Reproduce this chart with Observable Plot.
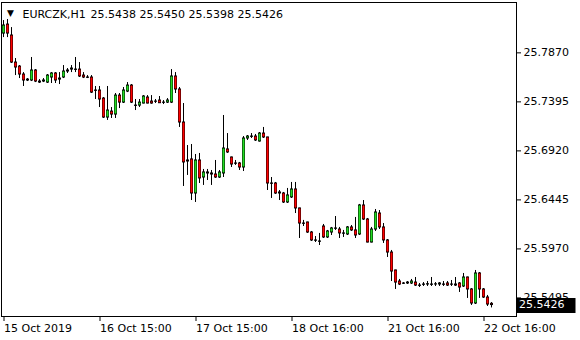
<!DOCTYPE html>
<html><head><meta charset="utf-8">
<script src="https://cdn.jsdelivr.net/npm/d3@7"></script>
<script src="https://cdn.jsdelivr.net/npm/@observablehq/plot@0.6"></script>
<style>html,body{margin:0;padding:0;background:#fff} svg{display:block}</style>
</head><body><div id="chart"></div>
<script>
const symbol = "EURCZK,H1";
const open = [25.8057,25.8144,25.8038,25.7776,25.7737,25.7660,25.7611,25.7602,25.7699,25.7592,25.7592,25.7582,25.7631,25.7670,25.7611,25.7631,25.7699,25.7708,25.7708,25.7708,25.7650,25.7631,25.7631,25.7505,25.7505,25.7427,25.7243,25.7301,25.7272,25.7456,25.7388,25.7495,25.7553,25.7359,25.7359,25.7379,25.7437,25.7398,25.7398,25.7408,25.7388,25.7388,25.7388,25.7641,25.7515,25.7195,25.6827,25.6837,25.6507,25.6827,25.6662,25.6711,25.6701,25.6691,25.6662,25.6701,25.6934,25.6856,25.6798,25.6798,25.6759,25.7040,25.7059,25.7059,25.7011,25.7088,25.7050,25.6604,25.6604,25.6517,25.6507,25.6420,25.6469,25.6546,25.6362,25.6216,25.6226,25.6129,25.6052,25.6042,25.6187,25.6081,25.6129,25.6168,25.6158,25.6120,25.6110,25.6178,25.6149,25.6110,25.6391,25.6255,25.6032,25.6158,25.6313,25.6178,25.6052,25.5935,25.5761,25.5654,25.5635,25.5635,25.5635,25.5644,25.5615,25.5625,25.5625,25.5625,25.5625,25.5625,25.5625,25.5635,25.5625,25.5625,25.5635,25.5606,25.5693,25.5577,25.5441,25.5732,25.5577,25.5499,25.5438];
const high = [25.8183,25.8193,25.8115,25.7815,25.7747,25.7679,25.7621,25.7825,25.7708,25.7611,25.7621,25.7660,25.7679,25.7679,25.7679,25.7747,25.7718,25.7747,25.7825,25.7776,25.7679,25.7650,25.7650,25.7544,25.7544,25.7437,25.7544,25.7340,25.7476,25.7476,25.7534,25.7582,25.7563,25.7418,25.7418,25.7456,25.7456,25.7456,25.7418,25.7447,25.7408,25.7427,25.7708,25.7679,25.7534,25.7379,25.6972,25.6982,25.6885,25.6895,25.6740,25.6740,25.6730,25.6827,25.6730,25.7263,25.7088,25.6860,25.6827,25.6808,25.7059,25.7069,25.7088,25.7079,25.7098,25.7147,25.7052,25.6662,25.6614,25.6536,25.6517,25.6556,25.6614,25.6614,25.6365,25.6246,25.6229,25.6139,25.6090,25.6120,25.6207,25.6149,25.6178,25.6284,25.6178,25.6149,25.6187,25.6197,25.6275,25.6401,25.6439,25.6265,25.6178,25.6352,25.6342,25.6216,25.6061,25.5955,25.5764,25.5674,25.5644,25.5654,25.5674,25.5693,25.5635,25.5644,25.5654,25.5693,25.5644,25.5644,25.5654,25.5654,25.5664,25.5693,25.5644,25.5732,25.5697,25.5586,25.5761,25.5741,25.5586,25.5519,25.5450];
const low = [25.8018,25.8018,25.7767,25.7650,25.7621,25.7544,25.7592,25.7592,25.7582,25.7573,25.7582,25.7573,25.7573,25.7573,25.7563,25.7621,25.7670,25.7679,25.7679,25.7631,25.7621,25.7621,25.7476,25.7418,25.7340,25.7234,25.7215,25.7234,25.7234,25.7330,25.7379,25.7485,25.7379,25.7311,25.7340,25.7375,25.7375,25.7372,25.7379,25.7379,25.7369,25.7379,25.7379,25.7476,25.7147,25.6575,25.6682,25.6439,25.6420,25.6604,25.6585,25.6633,25.6585,25.6653,25.6653,25.6662,25.6895,25.6759,25.6779,25.6730,25.6720,25.7021,25.7040,25.7011,25.7005,25.7040,25.6536,25.6459,25.6498,25.6439,25.6410,25.6410,25.6459,25.6313,25.6071,25.6187,25.6120,25.6042,25.6032,25.6003,25.6071,25.6071,25.6100,25.6149,25.6071,25.6081,25.6100,25.6139,25.6071,25.6100,25.6246,25.6028,25.6028,25.6139,25.6158,25.6023,25.5887,25.5654,25.5577,25.5615,25.5625,25.5625,25.5625,25.5606,25.5596,25.5606,25.5606,25.5606,25.5606,25.5606,25.5606,25.5606,25.5606,25.5606,25.5548,25.5596,25.5490,25.5422,25.5431,25.5490,25.5490,25.5412,25.5398];
const close = [25.8135,25.8057,25.7776,25.7728,25.7660,25.7602,25.7602,25.7699,25.7592,25.7582,25.7602,25.7650,25.7670,25.7602,25.7621,25.7689,25.7689,25.7718,25.7705,25.7641,25.7631,25.7628,25.7485,25.7502,25.7418,25.7243,25.7311,25.7272,25.7456,25.7388,25.7505,25.7553,25.7388,25.7356,25.7388,25.7447,25.7379,25.7379,25.7396,25.7382,25.7386,25.7408,25.7641,25.7515,25.7195,25.6808,25.6817,25.6507,25.6827,25.6653,25.6711,25.6701,25.6691,25.6662,25.6711,25.6943,25.6905,25.6788,25.6795,25.6759,25.7040,25.7059,25.7056,25.7021,25.7088,25.7050,25.6604,25.6601,25.6507,25.6507,25.6420,25.6488,25.6546,25.6362,25.6216,25.6213,25.6129,25.6052,25.6049,25.6039,25.6081,25.6139,25.6168,25.6165,25.6120,25.6117,25.6178,25.6149,25.6100,25.6391,25.6255,25.6032,25.6158,25.6323,25.6178,25.6052,25.5935,25.5751,25.5644,25.5625,25.5632,25.5644,25.5654,25.5615,25.5612,25.5622,25.5628,25.5622,25.5627,25.5635,25.5622,25.5615,25.5623,25.5615,25.5596,25.5693,25.5577,25.5441,25.5732,25.5577,25.5499,25.5431,25.5426];
const xTickBars = [0, 24, 48, 72, 96, 120];
const xTickLabels = ["15 Oct 2019", "16 Oct 15:00", "17 Oct 15:00", "18 Oct 16:00", "21 Oct 16:00", "22 Oct 16:00"];
const yTicks = [25.7870, 25.7395, 25.6920, 25.6445, 25.5970, 25.5495];
const upColor = "#22dd22", downColor = "#ff0000";

const bars = open.map((o, i) => ({i, o, h: high[i], l: low[i], c: close[i]}));
const last = bars[bars.length - 1];
const ohlcText = [last.o, last.h, last.l, last.c].map(v => v.toFixed(4)).join(" ");

const W = 580, H = 340, mR = 64;
const bodyOuter = {x1: d => d.i - 0.375, x2: d => d.i + 0.375, y1: "o", y2: "c", fill: "#000", insetTop: -0.5, insetBottom: -0.5};
const bodyInner = {x1: d => d.i - 0.25, x2: d => d.i + 0.25, y1: "o", y2: "c", insetTop: 0.5, insetBottom: 0.5};
const plot = Plot.plot({
  width: W, height: H,
  marginTop: 2, marginBottom: 24, marginLeft: 1, marginRight: mR,
  style: {fontFamily: "DejaVu Sans", fontSize: "11px", background: "#fff", color: "#000"},
  x: {domain: [-0.625, 128.125]},
  y: {domain: [25.5315, 25.8358]},
  marks: [
    Plot.ruleX(bars, {x: "i", y1: "l", y2: "h", stroke: "#000", strokeWidth: 1, dx: -0.5}),
    Plot.rect(bars, bodyOuter),
    Plot.rect(bars, {...bodyInner, filter: d => d.c >= d.o, fill: upColor}),
    Plot.rect(bars, {...bodyInner, filter: d => d.c < d.o, fill: downColor}),
    Plot.frame({stroke: "#000", shapeRendering: "crispEdges"}),
    Plot.axisY({anchor: "right", ticks: yTicks, tickFormat: d => d.toFixed(4), tickSize: 4, tickPadding: 3, label: null, fontSize: 11}),
    Plot.axisX({ticks: xTickBars, tickFormat: d => xTickLabels[xTickBars.indexOf(d)], tickSize: 5, tickPadding: 3, textAnchor: "start", label: null, fontSize: 11}),
    Plot.text([0], {frameAnchor: "top-left", text: () => "▼", dx: 9, dy: 11, fontSize: 9, textAnchor: "middle", lineAnchor: "middle"}),
    Plot.text([0], {frameAnchor: "top-left", text: () => symbol, dx: 21, dy: 8, fontSize: 11, textAnchor: "start", lineAnchor: "top"}),
    Plot.text([0], {frameAnchor: "top-left", text: () => ohlcText, dx: 89, dy: 8, fontSize: 11, textAnchor: "start", lineAnchor: "top"})
  ]
});
document.getElementById("chart").appendChild(plot);

// last-price label on the price axis
const yPos = plot.scale("y").apply(last.c);
const svg = d3.select(plot);
const xr = W - mR;
svg.append("rect").attr("x", xr + 0.5).attr("y", Math.round(yPos) - 7).attr("width", 59).attr("height", 15).attr("fill", "#000");
svg.append("text").attr("x", xr + 3).attr("y", yPos).attr("dy", "0.35em").attr("text-anchor", "start")
  .attr("fill", "#fff").attr("font-family", "DejaVu Sans").attr("font-size", 11).text(last.c.toFixed(4));
</script>
</body></html>
